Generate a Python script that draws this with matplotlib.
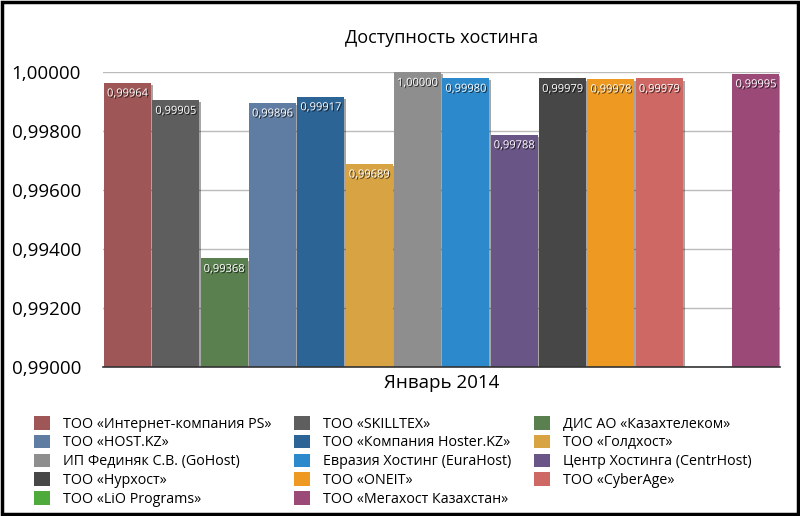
import matplotlib
matplotlib.use("Agg")
import matplotlib.pyplot as plt
import matplotlib.patheffects as pe
from matplotlib.patches import Rectangle, Patch
import numpy as np

plt.rcParams['font.family'] = ['Open Sans', 'DejaVu Sans']

# Hosting providers (legend order, row by row)
providers = [
    "ТОО «Интернет-компания PS»", "ТОО «SKILLTEX»", "ДИС АО «Казахтелеком»",
    "ТОО «HOST.KZ»", "ТОО «Компания Hoster.KZ»", "ТОО «Голдхост»",
    "ИП Фединяк С.В. (GoHost)", "Евразия Хостинг (EuraHost)", "Центр Хостинга (CentrHost)",
    "ТОО «Нурхост»", "ТОО «ONEIT»", "ТОО «CyberAge»",
    "ТОО «LiO Programs»", "ТОО «Мегахост Казахстан»",
]

# Availability, January 2014 (LiO Programs has no value)
availability = [0.99964, 0.99905, 0.99368, 0.99896, 0.99917, 0.99689, 1.00000,
                0.99980, 0.99788, 0.99979, 0.99978, 0.99979, None, 0.99995]

colors = ['#9E5656', '#5E5E5E', '#5A8050', '#5F7CA2', '#2D6496', '#D8A443', '#8E8E8E',
          '#2C89CB', '#6A5587', '#474747', '#EE9A22', '#CE6864', '#4DAA3B', '#9B4A78']

yticks = [0.990, 0.992, 0.994, 0.996, 0.998, 1.000]

fig = plt.figure(figsize=(8, 5.16), dpi=100)
ax = fig.add_axes([0.129, 0.289, 0.846, 0.571])

x = np.arange(len(providers))
shadow = [pe.SimplePatchShadow(offset=(1.5, -1.5), shadow_rgbFace='#000000', alpha=0.35), pe.Normal()]
txt_shadow = [pe.SimplePatchShadow(offset=(0.8, -0.8), shadow_rgbFace='#000000', alpha=0.7), pe.Normal()]

for i, (val, c) in enumerate(zip(availability, colors)):
    if val is None:
        continue
    b = ax.bar(x[i], val - 0.990, bottom=0.990, width=0.97, color=c, zorder=3)
    b[0].set_path_effects(shadow)
    ax.annotate(f"{val:.5f}".replace('.', ','), xy=(x[i], val), xytext=(0, -4),
                textcoords='offset points', ha='center', va='top', color='white',
                fontsize=8, zorder=5, path_effects=txt_shadow)

ax.set_xlim(-0.5, len(providers) - 0.5)
ax.set_ylim(0.990, 1.000)
ax.set_yticks(yticks)
ax.set_yticklabels([f"{t:.5f}".replace('.', ',') for t in yticks], fontsize=13.5)
ax.tick_params(axis='y', length=0, pad=16)
ax.set_xticks([])
ax.yaxis.grid(True, color='#BBBBBB', linewidth=1, zorder=0)
ax.set_axisbelow(True)
for s in ['left', 'right', 'top']:
    ax.spines[s].set_visible(False)
ax.spines['bottom'].set_color('#333333')
ax.spines['bottom'].set_linewidth(1.2)
ax.spines['bottom'].set_zorder(6)

ax.set_title("Доступность хостинга", fontsize=13, pad=21)
ax.set_xlabel("Январь 2014", fontsize=13.5, labelpad=5)

# matplotlib fills legend column by column: reorder so it reads row by row
ncol = 3
order = [i for c in range(ncol) for i in range(c, len(providers), ncol)]
handles = [Patch(facecolor=colors[i], edgecolor='none') for i in order]
labels = [providers[i] for i in order]
fig.legend(handles, labels, ncol=ncol, loc='upper left', bbox_to_anchor=(0.034, 0.208),
           frameon=False, fontsize=10.3, handlelength=1.1, handleheight=1.1,
           handletextpad=0.9, columnspacing=1.6, labelspacing=0.22, borderpad=0)

fig.patches.append(Rectangle((0.002, 0.003), 0.996, 0.994, transform=fig.transFigure,
                             fill=False, edgecolor='black', linewidth=2.5))

fig.savefig("out.png", dpi=100)
